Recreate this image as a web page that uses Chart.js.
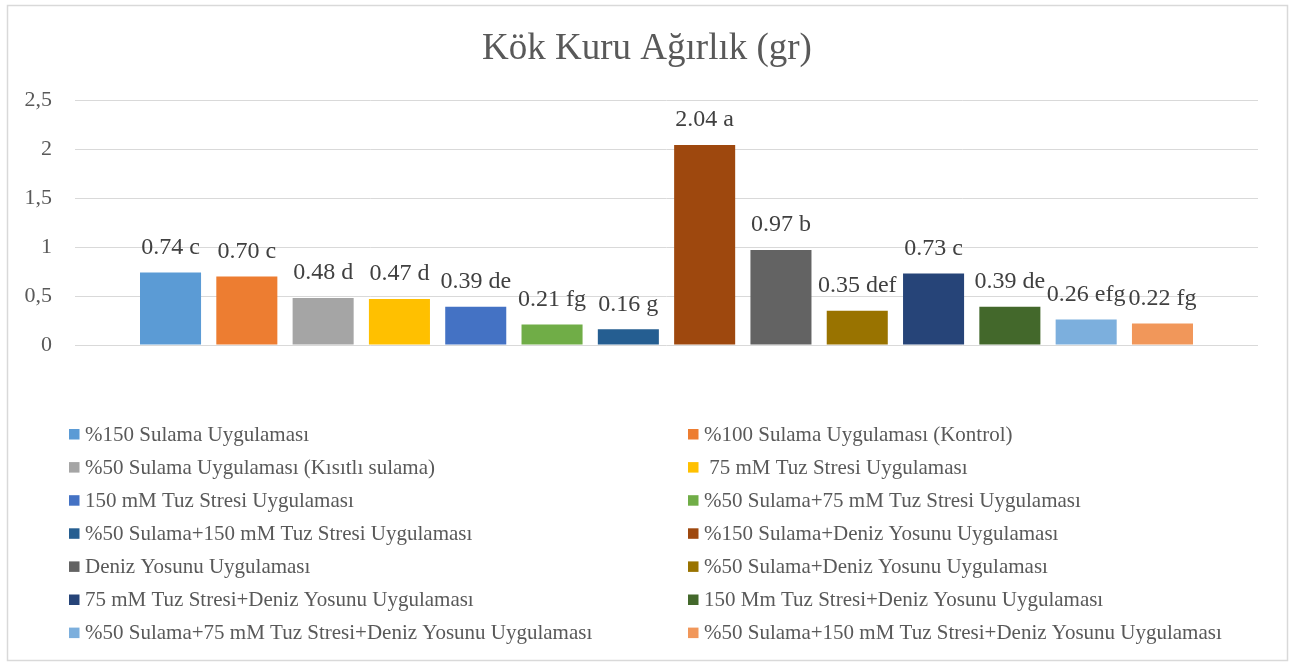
<!DOCTYPE html>
<html>
<head>
<meta charset="utf-8">
<title>Kök Kuru Ağırlık (gr)</title>
<script src="https://cdn.jsdelivr.net/npm/chart.js@4.4.1/dist/chart.umd.min.js"></script>
<style>
  html, body { margin: 0; padding: 0; background: #fff; }
  #wrap { width: 1293px; height: 662px; position: relative; }
</style>
</head>
<body>
<div id="wrap"><canvas id="rootChart"></canvas></div>
<script>
// Treatments, in legend order
const treatments = [
    '%150 Sulama Uygulaması',
    '%100 Sulama Uygulaması (Kontrol)',
    '%50 Sulama Uygulaması (Kısıtlı sulama)',
    ' 75 mM Tuz Stresi Uygulaması',
    '150 mM Tuz Stresi Uygulaması',
    '%50 Sulama+75 mM Tuz Stresi Uygulaması',
    '%50 Sulama+150 mM Tuz Stresi Uygulaması',
    '%150 Sulama+Deniz Yosunu Uygulaması',
    'Deniz Yosunu Uygulaması',
    '%50 Sulama+Deniz Yosunu Uygulaması',
    '75 mM Tuz Stresi+Deniz Yosunu Uygulaması',
    '150 Mm Tuz Stresi+Deniz Yosunu Uygulaması',
    '%50 Sulama+75 mM Tuz Stresi+Deniz Yosunu Uygulaması',
    '%50 Sulama+150 mM Tuz Stresi+Deniz Yosunu Uygulaması'
];
const rootWeight = [0.74, 0.70, 0.48, 0.47, 0.39, 0.21, 0.16, 2.04, 0.97, 0.35, 0.73, 0.39, 0.26, 0.22];
const groupLetters = ['c', 'c', 'd', 'd', 'de', 'fg', 'g', 'a', 'b', 'def', 'c', 'de', 'efg', 'fg'];
const barColors = ['#5B9BD5', '#ED7D31', '#A5A5A5', '#FFC000', '#4472C4', '#70AD47', '#255E91',
                   '#9E480E', '#636363', '#997300', '#264478', '#43682B', '#7CAFDD', '#F1975A'];
const yTicks = [0, 0.5, 1, 1.5, 2, 2.5];

const SERIF = "'Liberation Serif', 'Times New Roman', serif";

const datasets = treatments.map((name, i) => ({
    label: name,
    data: [rootWeight[i]],
    backgroundColor: barColors[i],
    borderWidth: 0,
    categoryPercentage: 0.903,
    barPercentage: 0.8
}));

// frame, title, value labels and the two-column legend
const decorations = {
    id: 'decorations',
    beforeDraw(chart) {
        const ctx = chart.ctx;
        ctx.save();
        ctx.fillStyle = '#fff';
        ctx.fillRect(0, 0, chart.width, chart.height);
        ctx.restore();
    },
    afterDatasetsDraw(chart) {
        const ctx = chart.ctx;
        ctx.save();
        ctx.font = '24px ' + SERIF;
        ctx.fillStyle = '#404040';
        ctx.textAlign = 'center';
        ctx.textBaseline = 'middle';
        chart.data.datasets.forEach((ds, i) => {
            const bar = chart.getDatasetMeta(i).data[0];
            ctx.fillText(ds.data[0].toFixed(2) + ' ' + groupLetters[i], bar.x, bar.y - 25);
        });
        ctx.restore();
    },
    afterDraw(chart) {
        const ctx = chart.ctx;
        ctx.save();
        // outer frame
        ctx.strokeStyle = '#D9D9D9';
        ctx.lineWidth = 1.5;
        ctx.strokeRect(7.5, 5.5, 1280, 655);

        // title
        ctx.fillStyle = '#595959';
        ctx.font = '37px ' + SERIF;
        ctx.textAlign = 'center';
        ctx.textBaseline = 'middle';
        ctx.fillText('Kök Kuru Ağırlık (gr)', 647, 49);

        // legend, two columns, filled row by row
        ctx.font = '21px ' + SERIF;
        ctx.textAlign = 'left';
        const colX = [69, 688];
        chart.data.datasets.forEach((ds, i) => {
            const x = colX[i % 2];
            const y = 434 + Math.floor(i / 2) * 33.1;
            ctx.fillStyle = ds.backgroundColor;
            ctx.fillRect(x, y - 5, 10.5, 10.5);
            ctx.fillStyle = '#595959';
            ctx.fillText(ds.label, x + 16, y + 1);
        });
        ctx.restore();
    }
};

new Chart(document.getElementById('rootChart'), {
    type: 'bar',
    data: { labels: [''], datasets: datasets },
    options: {
        responsive: true,
        maintainAspectRatio: false,
        animation: false,
        layout: { padding: { left: 0, top: 100, right: 35, bottom: 317 } },
        plugins: {
            legend: { display: false },
            title: { display: false },
            tooltip: { enabled: false }
        },
        scales: {
            x: { display: false },
            y: {
                min: 0,
                max: 2.5,
                afterFit(scale) { scale.width = 75; },
                afterBuildTicks(scale) { scale.ticks = yTicks.map(v => ({ value: v })); },
                border: { display: false },
                grid: { color: '#D9D9D9', lineWidth: 1, drawTicks: false },
                ticks: {
                    padding: 23,
                    color: '#595959',
                    font: { family: SERIF, size: 22 },
                    callback: v => String(v).replace('.', ',')
                }
            }
        }
    },
    plugins: [decorations]
});
</script>
</body>
</html>
